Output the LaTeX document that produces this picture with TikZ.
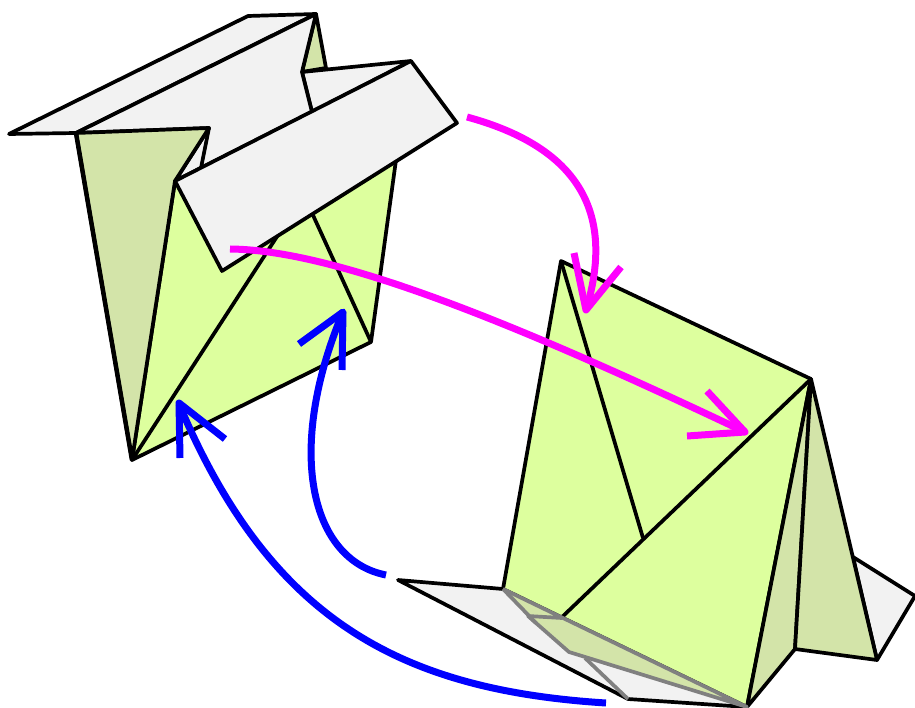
\documentclass[tikz,border=0pt]{standalone}
\definecolor{paleg}{HTML}{DDFF9E}
\definecolor{darkg}{HTML}{D3E4A9}
\definecolor{paper}{HTML}{F2F2F2}
\definecolor{pinkc}{HTML}{FF00FF}
\definecolor{bluec}{HTML}{0000FF}
\definecolor{greyl}{HTML}{808080}
\tikzset{
  edge/.style={draw=black,line width=3.7pt,line join=round},
  pale/.style={edge,fill=paleg},
  dark/.style={edge,fill=darkg},
  sheet/.style={edge,fill=paper},
  greyedge/.style={draw=greyl,line width=3.7pt,line join=round},
  pinkarrow/.style={draw=pinkc,line width=7pt,line join=round},
  bluearrow/.style={draw=bluec,line width=7pt,line join=round}
}
\begin{document}
\begin{tikzpicture}[x=1pt,y=-1pt]
\useasboundingbox (0,0) rectangle (915,708);
% left model
\path[sheet] (9,134) -- (248,16) -- (316,14) -- (76,133) -- cycle;
\path[dark] (316,14) -- (326,68) -- (302,72) -- cycle;
\path[sheet] (302,72) -- (411,61) -- (312,112) -- cycle;
\path[sheet] (76,133) -- (316,14) -- (302,72) -- (312,112) -- (175,181) -- (209,128) -- cycle;
\path[pale] (175,181) -- (396,160) -- (371,342) -- (132,460) -- cycle;
\path[dark] (76,133) -- (209,128) -- (175,181) -- (132,460) -- cycle;
\draw[edge,line width=4.5pt] (76,133) -- (132,460);
\draw[edge] (209,128) -- (201,168);
\draw[edge] (132,460) -- (278,235);
\draw[edge] (312,213) -- (371,342);
\path[sheet] (175,181) -- (411,61) -- (457,123) -- (222,271) -- cycle;
% right model
\path[sheet] (853,557) -- (915,596) -- (877,660) -- cycle;
\path[sheet] (398,580) -- (503,589) -- (747,707) -- (628,699) -- cycle;
\path[pale] (561,261) -- (811,379) -- (747,707) -- (503,589) -- cycle;
\draw[edge] (561,261) -- (643,538);
\draw[edge] (811,379) -- (561,618);
\path[dark] (811,379) -- (747,707) -- (795,649) -- cycle;
\path[dark] (811,379) -- (877,660) -- (795,649) -- cycle;
\path[fill=darkg] (503,589) -- (562,618) -- (747,707) -- (569,652) -- (528,616) -- cycle;
\draw[greyedge] (503,589) -- (747,707) -- (569,652) -- (528,616) -- (562,618);
\draw[greyedge] (503,589) -- (536,623);
\draw[greyedge] (585,658) -- (628,699);
% arrows
\draw[pinkarrow] (467,117) .. controls (570,145) and (618,205) .. (586,310);
\draw[pinkarrow] (574,253) -- (586,310) -- (621,267);
\draw[pinkarrow] (230,249) .. controls (340,250) and (530,330) .. (745,432);
\draw[pinkarrow] (707,391) -- (745,432) -- (687,436);
\draw[bluearrow] (606,703) .. controls (400,690) and (270,620) .. (179,404);
\draw[bluearrow] (180,458) -- (179,403) -- (225,439);
\draw[bluearrow] (386,575) .. controls (310,560) and (285,450) .. (343,312);
\draw[bluearrow] (299,344) -- (343,312) -- (342,370);
\end{tikzpicture}
\end{document}
